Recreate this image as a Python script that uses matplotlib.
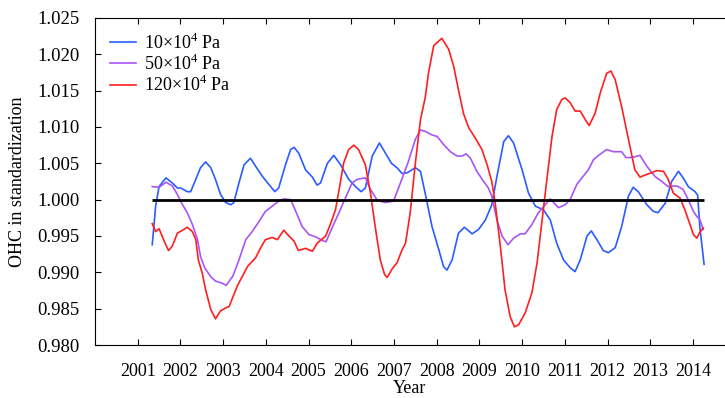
import matplotlib
matplotlib.use('Agg')
import matplotlib.pyplot as plt

plt.rcParams['font.family'] = ['Liberation Serif', 'DejaVu Serif']
plt.rcParams['mathtext.fontset'] = 'custom'
plt.rcParams['mathtext.rm'] = 'Liberation Serif'

# OHC series (decimal year, value)
years_10 = [2001.34, 2001.42, 2001.50, 2001.66, 2001.81, 2001.93, 2002.01, 2002.16, 2002.24,
            2002.36, 2002.47, 2002.59, 2002.71, 2002.82, 2002.94, 2003.06, 2003.18, 2003.25,
            2003.37, 2003.49, 2003.64, 2003.76, 2003.92, 2004.07, 2004.21, 2004.30, 2004.46,
            2004.58, 2004.66, 2004.77, 2004.93, 2005.09, 2005.20, 2005.28, 2005.44, 2005.59,
            2005.75, 2005.94, 2006.10, 2006.23, 2006.33, 2006.49, 2006.66, 2006.80, 2006.94,
            2007.07, 2007.19, 2007.31, 2007.50, 2007.62, 2007.73, 2007.89, 2008.05, 2008.16,
            2008.24, 2008.36, 2008.51, 2008.65, 2008.83, 2008.98, 2009.14, 2009.29, 2009.41,
            2009.57, 2009.68, 2009.80, 2010.00, 2010.15, 2010.31, 2010.50, 2010.66, 2010.81,
            2010.97, 2011.13, 2011.24, 2011.36, 2011.52, 2011.62, 2011.75, 2011.90, 2012.02,
            2012.18, 2012.33, 2012.49, 2012.60, 2012.72, 2012.92, 2013.07, 2013.18, 2013.35,
            2013.50, 2013.66, 2013.77, 2013.89, 2014.05, 2014.11, 2014.16, 2014.26]
ohc_10 = [0.9938, 0.9991, 1.0018, 1.0030, 1.0023, 1.0016, 1.0016, 1.0011, 1.0011,
          1.0028, 1.0044, 1.0052, 1.0044, 1.0028, 1.0007, 0.9996, 0.9993, 0.9996,
          1.0023, 1.0048, 1.0057, 1.0046, 1.0032, 1.0021, 1.0011, 1.0016, 1.0048,
          1.0069, 1.0072, 1.0064, 1.0041, 1.0031, 1.0020, 1.0023, 1.0050, 1.0061,
          1.0048, 1.0028, 1.0018, 1.0011, 1.0016, 1.0060, 1.0078, 1.0064, 1.0050,
          1.0044, 1.0036, 1.0037, 1.0044, 1.0039, 1.0009, 0.9963, 0.9931, 0.9908,
          0.9903, 0.9917, 0.9954, 0.9962, 0.9953, 0.9959, 0.9972, 0.9993, 1.0032,
          1.0080, 1.0088, 1.0078, 1.0041, 1.0009, 0.9991, 0.9986, 0.9972, 0.9940,
          0.9917, 0.9906, 0.9901, 0.9917, 0.9950, 0.9957, 0.9945, 0.9930, 0.9927,
          0.9934, 0.9963, 1.0005, 1.0017, 1.0011, 0.9993, 0.9984, 0.9982, 0.9995,
          1.0025, 1.0039, 1.0030, 1.0018, 1.0011, 1.0006, 0.9963, 0.9911]

years_50 = [2001.34, 2001.50, 2001.66, 2001.81, 2001.93, 2002.05, 2002.16, 2002.28, 2002.40,
            2002.47, 2002.57, 2002.71, 2002.82, 2002.98, 2003.07, 2003.23, 2003.37, 2003.53,
            2003.68, 2003.84, 2003.99, 2004.15, 2004.30, 2004.42, 2004.58, 2004.70, 2004.85,
            2005.01, 2005.16, 2005.32, 2005.41, 2005.55, 2005.71, 2005.86, 2006.02, 2006.14,
            2006.33, 2006.45, 2006.61, 2006.80, 2006.99, 2007.15, 2007.34, 2007.50, 2007.62,
            2007.73, 2007.89, 2008.01, 2008.16, 2008.32, 2008.48, 2008.59, 2008.69, 2008.79,
            2008.94, 2009.10, 2009.21, 2009.29, 2009.41, 2009.53, 2009.67, 2009.80, 2009.96,
            2010.07, 2010.23, 2010.38, 2010.54, 2010.66, 2010.85, 2011.01, 2011.13, 2011.28,
            2011.40, 2011.55, 2011.67, 2011.79, 2011.98, 2012.14, 2012.33, 2012.43, 2012.57,
            2012.76, 2012.92, 2013.11, 2013.27, 2013.42, 2013.62, 2013.77, 2013.89, 2014.01,
            2014.09, 2014.16, 2014.24]
ohc_50 = [1.0018, 1.0017, 1.0024, 1.0019, 1.0007, 0.9993, 0.9982, 0.9966, 0.9945,
          0.9922, 0.9906, 0.9894, 0.9888, 0.9885, 0.9882, 0.9895, 0.9917, 0.9945,
          0.9956, 0.9970, 0.9984, 0.9991, 0.9998, 1.0001, 1.0000, 0.9984, 0.9963,
          0.9952, 0.9949, 0.9944, 0.9942, 0.9961, 0.9982, 1.0002, 1.0023, 1.0028,
          1.0030, 1.0014, 0.9999, 0.9996, 0.9998, 1.0023, 1.0053, 1.0083, 1.0096,
          1.0094, 1.0089, 1.0087, 1.0076, 1.0066, 1.0060, 1.0060, 1.0063, 1.0057,
          1.0039, 1.0025, 1.0016, 1.0005, 0.9972, 0.9950, 0.9938, 0.9947, 0.9953,
          0.9953, 0.9966, 0.9982, 0.9993, 1.0001, 0.9989, 0.9993, 1.0001, 1.0021,
          1.0030, 1.0041, 1.0055, 1.0061, 1.0069, 1.0066, 1.0066, 1.0058, 1.0058,
          1.0061, 1.0046, 1.0032, 1.0025, 1.0018, 1.0019, 1.0014, 1.0000, 0.9984,
          0.9977, 0.9973, 0.9959]

years_120 = [2001.34, 2001.42, 2001.50, 2001.62, 2001.72, 2001.81, 2001.93, 2002.05, 2002.16,
             2002.28, 2002.36, 2002.42, 2002.51, 2002.59, 2002.71, 2002.82, 2002.94, 2003.06,
             2003.14, 2003.33, 2003.57, 2003.76, 2003.88, 2003.99, 2004.15, 2004.27, 2004.42,
             2004.54, 2004.66, 2004.76, 2004.93, 2005.09, 2005.20, 2005.40, 2005.51, 2005.63,
             2005.71, 2005.82, 2005.94, 2006.06, 2006.17, 2006.33, 2006.45, 2006.57, 2006.68,
             2006.78, 2006.84, 2006.96, 2007.07, 2007.19, 2007.27, 2007.38, 2007.50, 2007.62,
             2007.73, 2007.81, 2007.93, 2008.12, 2008.28, 2008.40, 2008.51, 2008.63, 2008.75,
             2008.90, 2009.06, 2009.18, 2009.29, 2009.37, 2009.49, 2009.60, 2009.72, 2009.82,
             2009.92, 2010.07, 2010.23, 2010.35, 2010.46, 2010.58, 2010.70, 2010.81, 2010.93,
             2011.01, 2011.13, 2011.24, 2011.36, 2011.48, 2011.57, 2011.71, 2011.83, 2011.98,
             2012.08, 2012.18, 2012.33, 2012.49, 2012.64, 2012.76, 2012.88, 2013.03, 2013.15,
             2013.31, 2013.42, 2013.54, 2013.70, 2013.81, 2013.93, 2014.01, 2014.09, 2014.16,
             2014.24]
ohc_120 = [0.9967, 0.9956, 0.9960, 0.9943, 0.9930, 0.9936, 0.9954, 0.9958, 0.9962,
           0.9956, 0.9945, 0.9917, 0.9899, 0.9876, 0.9849, 0.9836, 0.9847, 0.9851,
           0.9853, 0.9881, 0.9908, 0.9920, 0.9934, 0.9945, 0.9948, 0.9945, 0.9958,
           0.9950, 0.9943, 0.9930, 0.9933, 0.9929, 0.9940, 0.9950, 0.9966, 0.9986,
           1.0012, 1.0050, 1.0069, 1.0075, 1.0069, 1.0048, 1.0009, 0.9959, 0.9917,
           0.9897, 0.9893, 0.9905, 0.9913, 0.9931, 0.9940, 0.9982, 1.0050, 1.0110,
           1.0140, 1.0175, 1.0212, 1.0222, 1.0207, 1.0183, 1.0151, 1.0118, 1.0099,
           1.0085, 1.0069, 1.0048, 1.0025, 0.9995, 0.9936, 0.9876, 0.9839, 0.9825,
           0.9828, 0.9844, 0.9872, 0.9913, 0.9968, 1.0028, 1.0087, 1.0124, 1.0138,
           1.0140, 1.0133, 1.0122, 1.0122, 1.0110, 1.0102, 1.0119, 1.0147, 1.0174,
           1.0177, 1.0165, 1.0128, 1.0083, 1.0041, 1.0031, 1.0034, 1.0037, 1.0040,
           1.0039, 1.0028, 1.0009, 1.0002, 0.9986, 0.9966, 0.9952, 0.9947, 0.9955,
           0.9961]

tick_years = list(range(2001, 2015))
y_ticks = [0.980, 0.985, 0.990, 0.995, 1.000, 1.005, 1.010, 1.015, 1.020, 1.025]
labels = [r'10×10$^{4}$ Pa', r'50×10$^{4}$ Pa', r'120×10$^{4}$ Pa']

fig = plt.figure(figsize=(7.25, 3.98), dpi=100)
ax = fig.add_axes([95 / 725, 53 / 398, 1 - 95 / 725, 327 / 398])

ax.plot(years_10, ohc_10, color='#2a5cff', lw=1.2, label=labels[0])
ax.plot(years_50, ohc_50, color='#a855f7', lw=1.2, label=labels[1])
ax.plot(years_120, ohc_120, color='#ff1f1f', lw=1.2, label=labels[2])
ax.hlines(1.0, years_10[0], years_10[-1], color='black', lw=2)

ax.set_xlim(2000, 2014.75)
ax.set_ylim(0.980, 1.025)
ax.set_xticks(tick_years)
ax.set_xticklabels([str(y) for y in tick_years])
ax.set_yticks(y_ticks)
ax.set_yticklabels(['%.3f' % v for v in y_ticks])
ax.tick_params(axis='x', direction='in', top=True, length=4, labelsize=13, pad=13)
ax.tick_params(axis='y', direction='in', length=4, labelsize=13.5, pad=11)
ax.spines['right'].set_visible(False)

ax.set_xlabel('Year', fontsize=13, labelpad=0)
ax.set_ylabel('OHC in standardization', fontsize=13, labelpad=8)

ax.legend(loc='upper left', bbox_to_anchor=(0.024, 0.955), frameon=False, fontsize=13,
          borderpad=0, borderaxespad=0, handlelength=1.45, handletextpad=0.45,
          labelspacing=0.05)

fig.savefig('out.png', dpi=100)
